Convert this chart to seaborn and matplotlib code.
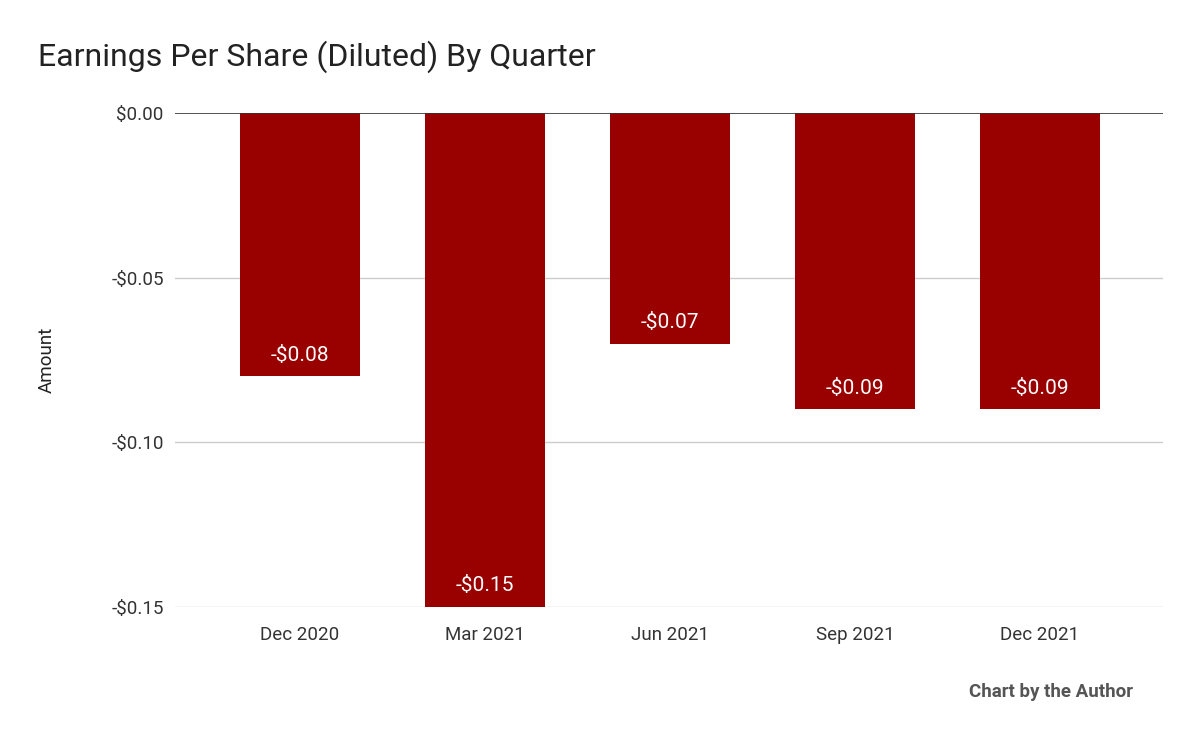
import matplotlib
matplotlib.use("Agg")
import matplotlib.pyplot as plt
import seaborn as sns
import pandas as pd

quarters = ["Dec 2020", "Mar 2021", "Jun 2021", "Sep 2021", "Dec 2021"]
eps = [-0.08, -0.15, -0.07, -0.09, -0.09]
yticks = [0.0, -0.05, -0.10, -0.15]
ytick_labels = ["$0.00", "-$0.05", "-$0.10", "-$0.15"]

plt.rcParams["font.family"] = "Roboto"
df = pd.DataFrame({"Quarter": quarters, "EPS": eps})

fig = plt.figure(figsize=(12, 7.42), dpi=100)
ax = fig.add_axes([0.1458, 0.1819, 0.969 - 0.1458, 0.8477 - 0.1819])
sns.barplot(data=df, x="Quarter", y="EPS", color="#990000", saturation=1, width=0.65, ax=ax, zorder=3)
ax.set_xlim(-0.676, 4.665)
ax.set_ylim(-0.15, 0.0)
ax.set_yticks(yticks)
ax.set_yticklabels(ytick_labels)
for y in yticks[1:]:
    ax.axhline(y, color="#cccccc", lw=1, zorder=1)
ax.axhline(0, color="#333333", lw=1.2, zorder=4)
for s in ax.spines.values():
    s.set_visible(False)
ax.tick_params(length=0, labelsize=13.5, colors="#333333", pad=8)
ax.tick_params(axis="x", pad=14)
ax.set_xlabel("")
ax.set_ylabel("Amount", fontsize=13.5, color="#222222", labelpad=40)
for i, v in enumerate(eps):
    ax.text(i, v + 0.0065, f"-${abs(v):.2f}", ha="center", va="center", color="white", fontsize=15, zorder=5)
fig.text(38 / 1200, 1 - 57 / 742, "Earnings Per Share (Diluted) By Quarter", fontsize=23, color="#222222", va="center", ha="left")
fig.text(1133 / 1200, 1 - 692 / 742, "Chart by the Author", fontsize=13.5, fontweight="bold", color="#555555", ha="right", va="center")
fig.savefig("out.png", dpi=100)
